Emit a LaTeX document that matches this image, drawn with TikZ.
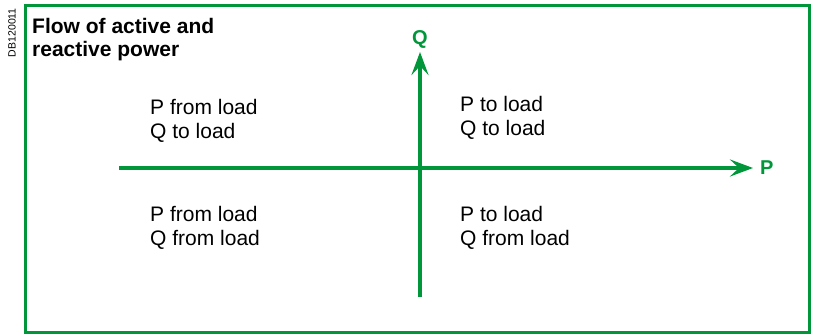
\documentclass[tikz,border=0pt]{standalone}
\usepackage{fontspec}
\setmainfont{Liberation Sans}
\usetikzlibrary{positioning, arrows.meta}
\definecolor{sgreen}{RGB}{0,150,57}

\begin{document}
\begin{tikzpicture}[x=1pt,y=-1pt,
  axis/.style={sgreen, line width=3.6pt, -{Stealth[length=23pt,width=17pt,inset=9pt]}},
  quad/.style={align=left, anchor=north west, inner sep=0pt, font=\fontsize{21}{24.5}\selectfont},
  axlabel/.style={text=sgreen, font=\bfseries\fontsize{20}{22}\selectfont, inner sep=0pt}]
  \useasboundingbox (0,0) rectangle (814,335);
  \draw[sgreen, line width=3pt] (25.5,5.5) rectangle (809.5,332.5);
  \node[rotate=90, anchor=east, inner sep=0pt, font=\fontsize{10.5}{12}\selectfont] (code) at (12,8) {DB120011};
  \node[quad, font=\bfseries\fontsize{21}{23}\selectfont] (title) at (32,18) {Flow of active and\\reactive power};
  \coordinate (pmin) at (119,168);
  \coordinate (pmax) at (753,168);
  \coordinate (qmin) at (420,297);
  \coordinate (qmax) at (420,52);
  \draw[axis] (pmin) -- (pmax);
  \draw[axis] (qmin) -- (qmax);
  \node[axlabel, right=7pt of pmax] (plabel) {P};
  \node[axlabel, above=3pt of qmax] (qlabel) {Q};
  \node[quad] (tl) at (150,99) {P from load\\Q to load};
  \node[quad] (tr) at (460,96) {P to load\\Q to load};
  \node[quad] (bl) at (150,206) {P from load\\Q from load};
  \node[quad] (br) at (460,206) {P to load\\Q from load};
\end{tikzpicture}
\end{document}
